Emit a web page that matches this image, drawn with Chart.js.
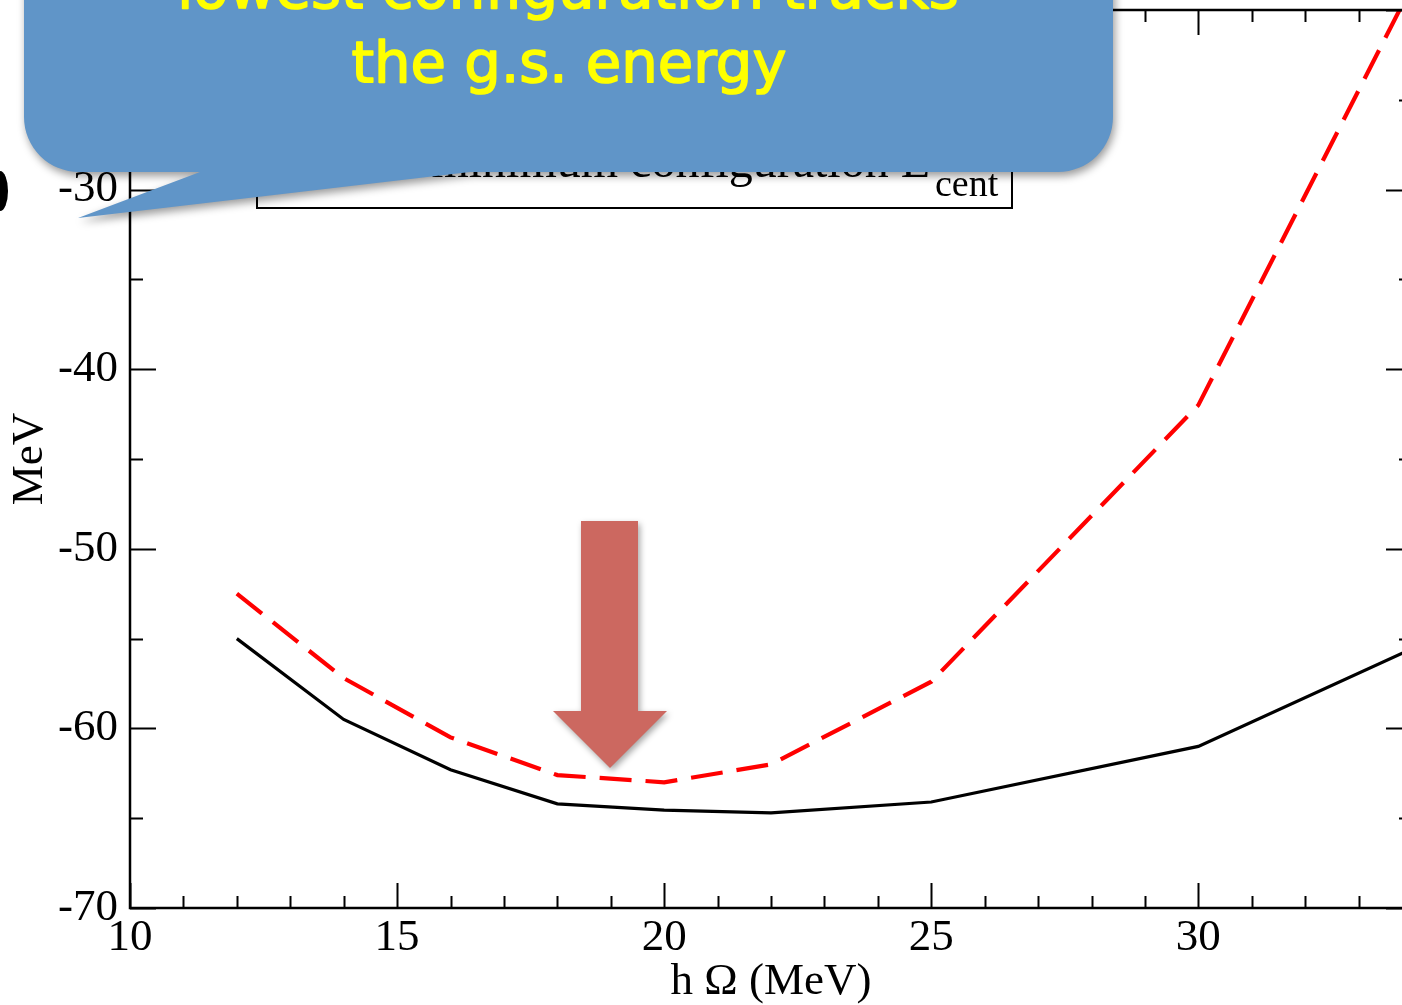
<!DOCTYPE html>
<html>
<head>
<meta charset="utf-8">
<script src="https://cdn.jsdelivr.net/npm/chart.js@4.4.1/dist/chart.umd.min.js"></script>
<style>
  html, body { margin: 0; padding: 0; overflow: hidden; background: #fff; width: 1402px; height: 1005px; }
  #wrap { position: absolute; left: 0; top: 0; width: 1440px; height: 1005px; }
</style>
</head>
<body>
<div id="wrap"><canvas id="c" width="1440" height="1005"></canvas></div>
<script>
// oscillator frequency (MeV)
const hbarOmega = [12, 14, 16, 18, 20, 22, 25, 30, 35];
// ground-state energy (MeV)
const gsEnergy = [-55.0, -59.5, -62.3, -64.2, -64.55, -64.7, -64.1, -61.0, -54.2];
// minimum configuration E_cent (MeV)
const centEnergy = [-52.5, -57.2, -60.5, -62.6, -63.0, -62.0, -57.4, -42.0, -12.8];

const xTickValues = [10, 15, 20, 25, 30];
const yTickValues = [-70, -60, -50, -40, -30, -20];

const xTitle = 'h \u03A9 (MeV)';
const yTitle = 'MeV';
const legendText = 'minimum configuration E';
const legendSub = 'cent';
const calloutLines = ['lowest configuration tracks', 'the g.s. energy'];

const SERIF = '"Liberation Serif", "Times New Roman", serif';

// frame with inward major/minor ticks on all four sides
const framePlugin = {
  id: 'frameTicks',
  afterDatasetsDraw(chart) {
    const { ctx, chartArea: a, scales: { x, y } } = chart;
    ctx.save();
    ctx.strokeStyle = '#000';
    ctx.lineWidth = 2.5;
    ctx.strokeRect(a.left, a.top, a.right - a.left, a.bottom - a.top);
    ctx.lineWidth = 2;
    ctx.beginPath();
    for (let v = x.min; v <= x.max + 1e-9; v += 1) {
      const px = Math.round(x.getPixelForValue(v)) + 0.5;
      const len = xTickValues.includes(v) ? 25 : 12;
      ctx.moveTo(px, a.bottom); ctx.lineTo(px, a.bottom - len);
      ctx.moveTo(px, a.top); ctx.lineTo(px, a.top + len);
    }
    for (let v = y.min; v <= y.max + 1e-9; v += 5) {
      const py = Math.round(y.getPixelForValue(v)) + 0.5;
      const len = yTickValues.includes(v) ? 26 : 13;
      ctx.moveTo(a.left, py); ctx.lineTo(a.left + len, py);
      ctx.moveTo(a.right, py); ctx.lineTo(a.right - len, py);
    }
    ctx.stroke();
    ctx.restore();
  }
};

// legend box, arrow and the speech-bubble callout
const overlayPlugin = {
  id: 'overlay',
  afterDraw(chart) {
    const ctx = chart.ctx;
    ctx.save();

    // legend box
    ctx.fillStyle = '#fff';
    ctx.fillRect(257, 100, 755, 108);
    ctx.strokeStyle = '#000';
    ctx.lineWidth = 2;
    ctx.strokeRect(257, 100, 755, 108);
    ctx.fillStyle = '#000';
    ctx.textBaseline = 'alphabetic';
    ctx.textAlign = 'right';
    ctx.font = '48px ' + SERIF;
    ctx.fillText(legendText, 930, 177);
    ctx.textAlign = 'left';
    ctx.font = '38px ' + SERIF;
    ctx.fillText(legendSub, 935, 196);

    // dark blot on the left edge
    ctx.beginPath();
    ctx.ellipse(0, 191, 8, 20, 0, 0, Math.PI * 2);
    ctx.fillStyle = '#000';
    ctx.fill();

    // down arrow
    ctx.save();
    ctx.shadowColor = 'rgba(0,0,0,0.35)';
    ctx.shadowBlur = 6;
    ctx.shadowOffsetX = 2;
    ctx.shadowOffsetY = 3;
    ctx.fillStyle = '#cc6860';
    ctx.beginPath();
    ctx.moveTo(581, 521); ctx.lineTo(638, 521); ctx.lineTo(638, 711);
    ctx.lineTo(667, 711); ctx.lineTo(610, 768); ctx.lineTo(553, 711);
    ctx.lineTo(581, 711); ctx.closePath();
    ctx.fill();
    ctx.restore();

    // speech bubble
    ctx.save();
    ctx.shadowColor = 'rgba(0,0,0,0.4)';
    ctx.shadowBlur = 9;
    ctx.shadowOffsetX = 2;
    ctx.shadowOffsetY = 4;
    ctx.fillStyle = '#6095c8';
    const L = 24, R = 1113, T = -80, B = 172, r = 55;
    ctx.beginPath();
    ctx.moveTo(L + r, T);
    ctx.lineTo(R - r, T);
    ctx.arcTo(R, T, R, T + r, r);
    ctx.lineTo(R, B - r);
    ctx.arcTo(R, B, R - r, B, r);
    ctx.lineTo(470, B);
    ctx.lineTo(78, 218);
    ctx.lineTo(200, B);
    ctx.lineTo(L + r, B);
    ctx.arcTo(L, B, L, B - r, r);
    ctx.lineTo(L, T + r);
    ctx.arcTo(L, T, L + r, T, r);
    ctx.closePath();
    ctx.fill();
    ctx.restore();

    // callout text, sized so the second line spans the bubble's text width
    let size = 60;
    ctx.font = size + 'px "DejaVu Sans", sans-serif';
    size = size * 435 / ctx.measureText(calloutLines[1]).width;
    ctx.font = size.toFixed(1) + 'px "DejaVu Sans", sans-serif';
    ctx.fillStyle = '#ffff00';
    ctx.strokeStyle = '#ffff00';
    ctx.lineWidth = 1.6;
    ctx.lineJoin = 'round';
    ctx.textAlign = 'center';
    ctx.textBaseline = 'alphabetic';
    ctx.fillText(calloutLines[0], 568, 8);
    ctx.strokeText(calloutLines[0], 568, 8);
    ctx.fillText(calloutLines[1], 569, 82);
    ctx.strokeText(calloutLines[1], 569, 82);

    ctx.restore();
  }
};

const chart = new Chart(document.getElementById('c'), {
  type: 'line',
  data: {
    datasets: [
      {
        label: 'g.s. energy',
        data: hbarOmega.map((v, i) => ({ x: v, y: gsEnergy[i] })),
        borderColor: '#000',
        borderWidth: 3.2,
        pointRadius: 0,
        tension: 0,
        fill: false
      },
      {
        label: legendText + legendSub,
        data: hbarOmega.map((v, i) => ({ x: v, y: centEnergy[i] })),
        borderColor: '#ff0000',
        borderWidth: 4.2,
        borderDash: [32, 14],
        pointRadius: 0,
        tension: 0,
        fill: false
      }
    ]
  },
  options: {
    responsive: false,
    animation: false,
    devicePixelRatio: 1,
    layout: { padding: { left: 0, right: 28, top: 10, bottom: 0 } },
    plugins: { legend: { display: false }, tooltip: { enabled: false } },
    scales: {
      x: {
        type: 'linear',
        position: 'bottom',
        min: 10,
        max: 34,
        afterBuildTicks: s => { s.ticks = xTickValues.map(v => ({ value: v })); },
        afterFit: s => { s.height = 97; s.paddingLeft = 0; s.paddingRight = 0; },
        grid: { display: false, drawTicks: false },
        border: { display: false },
        ticks: {
          color: '#000',
          font: { family: SERIF, size: 45 },
          padding: 3,
          maxRotation: 0,
          autoSkip: false
        },
        title: {
          display: true,
          text: xTitle,
          color: '#000',
          font: { family: SERIF, size: 45, lineHeight: 1 },
          padding: { top: 0, bottom: 0 }
        }
      },
      y: {
        type: 'linear',
        min: -70,
        max: -20,
        afterBuildTicks: s => { s.ticks = yTickValues.map(v => ({ value: v })); },
        afterFit: s => { s.width = 130; s.paddingTop = 0; s.paddingBottom = 0; },
        grid: { display: false, drawTicks: false },
        border: { display: false },
        ticks: {
          color: '#000',
          font: { family: SERIF, size: 45 },
          padding: 12,
          autoSkip: false
        },
        title: {
          display: true,
          text: yTitle,
          color: '#000',
          font: { family: SERIF, size: 45, lineHeight: 1 },
          padding: { top: 8, bottom: 0 }
        }
      }
    }
  },
  plugins: [framePlugin, overlayPlugin]
});
</script>
</body>
</html>
